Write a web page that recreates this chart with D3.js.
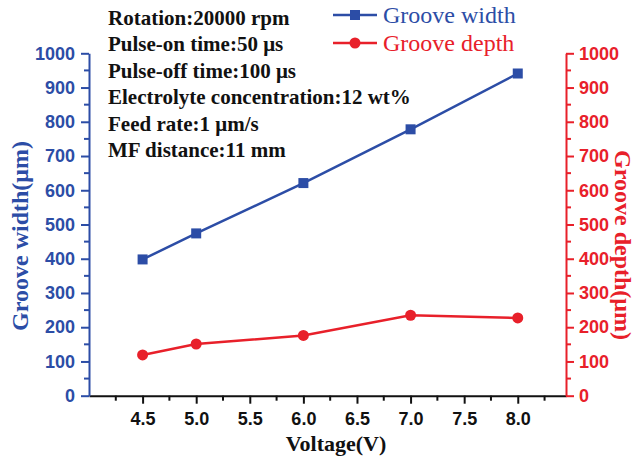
<!DOCTYPE html>
<html>
<head>
<meta charset="utf-8">
<script src="https://cdn.jsdelivr.net/npm/d3@7"></script>
<style>
  html, body { margin: 0; padding: 0; background: #fff; }
  svg { display: block; }
</style>
</head>
<body>
<svg id="chart" width="635" height="458"></svg>
<script>
// Groove width / depth versus machining voltage
const voltages = [4.5, 5.0, 6.0, 7.0, 8.0];
const grooveWidth = [398, 474, 621, 778, 941];
const grooveDepth = [119, 151, 176, 235, 227];
const xTicks = [4.5, 5.0, 5.5, 6.0, 6.5, 7.0, 7.5, 8.0];
const yTicks = [0, 100, 200, 300, 400, 500, 600, 700, 800, 900, 1000];
const conditions = [
  "Rotation:20000 rpm",
  "Pulse-on time:50 \u03bcs",
  "Pulse-off time:100 \u03bcs",
  "Electrolyte concentration:12 wt%",
  "Feed rate:1 \u03bcm/s",
  "MF distance:11 mm"
];

const BLUE = "#2c4da6";
const RED = "#e8202a";
const SERIF = "'Liberation Serif', 'Times New Roman', serif";
const SANS = "'Liberation Sans', Arial, sans-serif";

const svg = d3.select("#chart");
const plotL = 89, plotR = 566, plotT = 53.3, plotB = 395.7;

const x = d3.scaleLinear().domain([4.0, 8.45]).range([plotL, plotR]);
const yL = d3.scaleLinear().domain([0, 1000]).range([plotB, plotT]);
const yR = d3.scaleLinear().domain([0, 1000]).range([plotB, plotT]);

// bottom axis: major ticks every 0.5, minor every 0.25
const xMinor = d3.range(4.25, 8.45, 0.5);
const gx = svg.append("g").attr("transform", `translate(0,${plotB})`);
gx.call(d3.axisBottom(x).tickValues(xTicks).tickFormat(d3.format(".1f"))
    .tickSizeInner(8).tickSizeOuter(0).tickPadding(9));
gx.select(".domain").attr("stroke", "#111").attr("stroke-width", 2);
gx.selectAll(".tick line").attr("stroke", "#111").attr("stroke-width", 2);
gx.selectAll(".tick text").attr("fill", "#111")
  .style("font-family", SANS).style("font-weight", "bold").style("font-size", "18px");
gx.selectAll(".minor").data(xMinor).enter().append("line")
  .attr("x1", d => x(d)).attr("x2", d => x(d)).attr("y1", 0).attr("y2", 5)
  .attr("stroke", "#111").attr("stroke-width", 2);

// styling shared by the two value axes
function styleY(g, color) {
  g.select(".domain").attr("stroke", color).attr("stroke-width", 2);
  g.selectAll(".tick line").attr("stroke", color).attr("stroke-width", 2);
  g.selectAll(".tick text").attr("fill", color)
    .style("font-family", SANS).style("font-weight", "bold").style("font-size", "18px");
}
const yMinor = d3.range(50, 1000, 100);

const gl = svg.append("g").attr("transform", `translate(${plotL},0)`);
gl.call(d3.axisLeft(yL).tickValues(yTicks).tickFormat(d3.format("d"))
    .tickSizeInner(8).tickSizeOuter(0).tickPadding(6));
styleY(gl, BLUE);
gl.selectAll(".minor").data(yMinor).enter().append("line")
  .attr("x1", 0).attr("x2", -5).attr("y1", d => yL(d)).attr("y2", d => yL(d))
  .attr("stroke", BLUE).attr("stroke-width", 2);

const gr = svg.append("g").attr("transform", `translate(${plotR},0)`);
gr.call(d3.axisRight(yR).tickValues(yTicks).tickFormat(d3.format("d"))
    .tickSizeInner(8).tickSizeOuter(0).tickPadding(5));
styleY(gr, RED);
gr.selectAll(".minor").data(yMinor).enter().append("line")
  .attr("x1", 0).attr("x2", 5).attr("y1", d => yR(d)).attr("y2", d => yR(d))
  .attr("stroke", RED).attr("stroke-width", 2);

// axis titles
svg.append("text").attr("transform", "translate(28,236) rotate(-90)")
  .attr("text-anchor", "middle").attr("fill", BLUE)
  .style("font-family", SERIF).style("font-weight", "bold").style("font-size", "24px")
  .text("Groove width(\u03bcm)");
svg.append("text").attr("transform", "translate(615,245) rotate(90)")
  .attr("text-anchor", "middle").attr("fill", RED)
  .style("font-family", SERIF).style("font-weight", "bold").style("font-size", "24px")
  .text("Groove depth(\u03bcm)");
svg.append("text").attr("x", 336).attr("y", 451)
  .attr("text-anchor", "middle").attr("fill", "#111")
  .style("font-family", SERIF).style("font-weight", "bold").style("font-size", "22px")
  .text("Voltage(V)");

// series
const widthPts = voltages.map((v, i) => [v, grooveWidth[i]]);
const depthPts = voltages.map((v, i) => [v, grooveDepth[i]]);

svg.append("path").datum(widthPts)
  .attr("fill", "none").attr("stroke", BLUE).attr("stroke-width", 2.5)
  .attr("d", d3.line().x(d => x(d[0])).y(d => yL(d[1])));
svg.selectAll(".sq").data(widthPts).enter().append("rect")
  .attr("x", d => x(d[0]) - 5).attr("y", d => yL(d[1]) - 5)
  .attr("width", 10).attr("height", 10).attr("fill", BLUE);

svg.append("path").datum(depthPts)
  .attr("fill", "none").attr("stroke", RED).attr("stroke-width", 2.5)
  .attr("d", d3.line().x(d => x(d[0])).y(d => yR(d[1])));
svg.selectAll(".dot").data(depthPts).enter().append("circle")
  .attr("cx", d => x(d[0])).attr("cy", d => yR(d[1])).attr("r", 5.5).attr("fill", RED);

// legend
const legend = [
  { name: "Groove width", color: BLUE, shape: "square", y: 15 },
  { name: "Groove depth", color: RED, shape: "circle", y: 43 }
];
const lg = svg.append("g");
legend.forEach(item => {
  lg.append("line").attr("x1", 333).attr("x2", 377).attr("y1", item.y).attr("y2", item.y)
    .attr("stroke", item.color).attr("stroke-width", 2.5);
  if (item.shape === "square") {
    lg.append("rect").attr("x", 350).attr("y", item.y - 5).attr("width", 10).attr("height", 10)
      .attr("fill", item.color);
  } else {
    lg.append("circle").attr("cx", 355).attr("cy", item.y).attr("r", 5.5).attr("fill", item.color);
  }
  lg.append("text").attr("x", 383).attr("y", item.y + 8).attr("fill", item.color)
    .style("font-family", SERIF).style("font-size", "24px").text(item.name);
});

// machining conditions
svg.append("g").selectAll("text").data(conditions).enter().append("text")
  .attr("x", 108).attr("y", (d, i) => 24.5 + i * 26.5)
  .attr("fill", "#111")
  .style("font-family", SERIF).style("font-weight", "bold").style("font-size", "21px")
  .text(d => d);
</script>
</body>
</html>
